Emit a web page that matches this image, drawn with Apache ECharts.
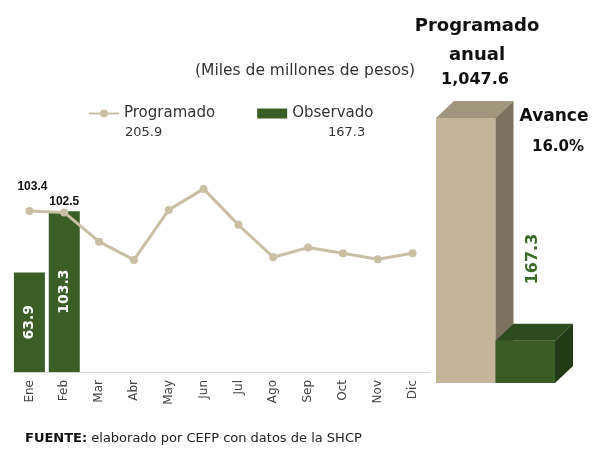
<!DOCTYPE html>
<html>
<head>
<meta charset="utf-8">
<script src="https://cdn.jsdelivr.net/npm/echarts@6/dist/echarts.min.js"></script>
<style>
  html, body { margin: 0; padding: 0; background: #fff; }
  #main { width: 596px; height: 449px; }
</style>
</head>
<body>
<div id="main"></div>
<script>
// datos mensuales (miles de millones de pesos)
const months = ['Ene', 'Feb', 'Mar', 'Abr', 'May', 'Jun', 'Jul', 'Ago', 'Sep', 'Oct', 'Nov', 'Dic'];
const programado = [103.4, 102.5, 83.7, 72.0, 104.1, 117.6, 94.5, 73.7, 79.9, 76.3, 72.4, 76.3];
const observado = [63.9, 103.3];
const totalProg = 205.9;
const totalObs = 167.3;
const progAnual = 1047.6;
const accCategories = ['Programado anual', 'Obs.\nAcumulado'];
const accValues = [progAnual, totalObs];

const FONT = 'DejaVu Sans';
const TAN = '#c9bfa5';
const GREEN = '#3b5e26';
const faces = [
    { front: '#c3b698', top: '#a0977e', side: '#7c735f' },
    { front: '#395d24', top: '#2d4b1c', side: '#233a16' }
];
const dx = 18, dy = 17;

let chart = echarts.init(document.getElementById('main'));

let lineData = programado.map((v, i) => {
    if (i == 0) return { value: v, label: { show: true, distance: 14, offset: [3, 0] } };
    if (i == 1) return { value: v, label: { show: true, distance: 1 } };
    return v;
});

function render3d(params, api) {
    let i = api.value(0);
    let top = api.coord([i, api.value(1)]);
    let base = api.coord([i, 0]);
    let w = api.size([1, 0])[0];
    let x0 = top[0] - w / 2, x1 = top[0] + w / 2;
    let c = faces[params.dataIndex];
    return {
        type: 'group',
        children: [
            { type: 'rect', shape: { x: x0, y: top[1], width: w, height: base[1] - top[1] }, style: { fill: c.front } },
            { type: 'polygon', shape: { points: [[x0, top[1]], [x0 + dx, top[1] - dy], [x1 + dx, top[1] - dy], [x1, top[1]]] }, style: { fill: c.top } },
            { type: 'polygon', shape: { points: [[x1, top[1]], [x1 + dx, top[1] - dy], [x1 + dx, base[1] - dy], [x1, base[1]]] }, style: { fill: c.side } }
        ]
    };
}

let avance = (totalObs / progAnual * 100).toFixed(1) + '%';

let option = {
    animation: false,
    textStyle: { fontFamily: FONT },
    legend: {
        left: 83,
        top: 101,
        itemWidth: 30,
        itemHeight: 10,
        itemGap: 42,
        textStyle: { fontFamily: FONT, fontSize: 15, color: '#333' },
        data: ['Programado', { name: 'Observado', icon: 'rect' }]
    },
    grid: [
        { left: 12, right: 166, top: 154, bottom: 77 },
        { left: 436, right: 41, top: 118, bottom: 66 }
    ],
    xAxis: [{
        type: 'category',
        gridIndex: 0,
        data: months,
        axisLine: { lineStyle: { color: '#d9d9d9', width: 1 } },
        axisTick: { show: false },
        axisLabel: { rotate: 90, margin: 8, fontSize: 12, color: '#444', fontFamily: FONT }
    }, {
        type: 'category',
        gridIndex: 1,
        data: accCategories,
        axisLine: { show: false },
        axisTick: { show: false },
        axisLabel: {
            margin: 7,
            fontSize: 15,
            lineHeight: 26,
            color: '#333',
            fontFamily: FONT,
            formatter: (v, i) => i == 1 ? v : ''
        }
    }],
    yAxis: [
        { type: 'value', gridIndex: 0, min: 0, max: 140, show: false },
        { type: 'value', gridIndex: 1, min: 0, max: progAnual, show: false }
    ],
    series: [{
        name: 'Programado',
        type: 'line',
        data: lineData,
        z: 3,
        symbol: 'circle',
        symbolSize: 8,
        lineStyle: { color: TAN, width: 3 },
        itemStyle: { color: TAN },
        label: {
            show: false,
            position: 'top',
            fontFamily: 'Liberation Sans',
            fontWeight: 'bold',
            fontSize: 12,
            color: '#111'
        }
    }, {
        name: 'Observado',
        type: 'bar',
        data: observado,
        barWidth: 31,
        z: 2,
        itemStyle: { color: GREEN },
        label: {
            show: true,
            position: 'inside',
            rotate: 90,
            color: '#fff',
            fontFamily: FONT,
            fontWeight: 'bold',
            fontSize: 14
        }
    }, {
        type: 'custom',
        xAxisIndex: 1,
        yAxisIndex: 1,
        clip: false,
        data: accValues.map((v, i) => [i, v]),
        encode: { x: 0, y: 1 },
        renderItem: render3d
    }],
    graphic: [
        { type: 'text', left: 125, top: 126, style: { text: totalProg.toFixed(1), font: '13px ' + FONT, fill: '#333' } },
        { type: 'text', left: 328, top: 126, style: { text: totalObs.toFixed(1), font: '13px ' + FONT, fill: '#333' } },
        { type: 'text', left: 195, top: 63, style: { text: '(Miles de millones de pesos)', font: '15.5px ' + FONT, fill: '#333' } },
        { type: 'text', x: 477, y: 26, style: { text: 'Programado', font: 'bold 18px ' + FONT, fill: '#111', align: 'center', verticalAlign: 'middle' } },
        { type: 'text', x: 477, y: 55, style: { text: 'anual', font: 'bold 18px ' + FONT, fill: '#111', align: 'center', verticalAlign: 'middle' } },
        { type: 'text', x: 475, y: 80, style: { text: progAnual.toLocaleString('en-US', { minimumFractionDigits: 1 }), font: 'bold 16px ' + FONT, fill: '#111', align: 'center', verticalAlign: 'middle' } },
        { type: 'text', x: 554, y: 117, style: { text: 'Avance', font: 'bold 17px ' + FONT, fill: '#111', align: 'center', verticalAlign: 'middle' } },
        { type: 'text', x: 558, y: 147, style: { text: avance, font: 'bold 15px ' + FONT, fill: '#111', align: 'center', verticalAlign: 'middle' } },
        { type: 'text', x: 533, y: 259, rotation: Math.PI / 2, style: { text: totalObs.toFixed(1), font: 'bold 16px ' + FONT, fill: '#3b6a26', align: 'center', verticalAlign: 'middle' } },
        {
            type: 'text', left: 25, top: 432,
            style: {
                text: '{b|FUENTE:} elaborado por CEFP con datos de la SHCP',
                font: '13px ' + FONT,
                fill: '#222',
                rich: { b: { fontWeight: 'bold', fontSize: 13, fontFamily: FONT, fill: '#111' } }
            }
        }
    ]
};
chart.setOption(option);
</script>
</body>
</html>
